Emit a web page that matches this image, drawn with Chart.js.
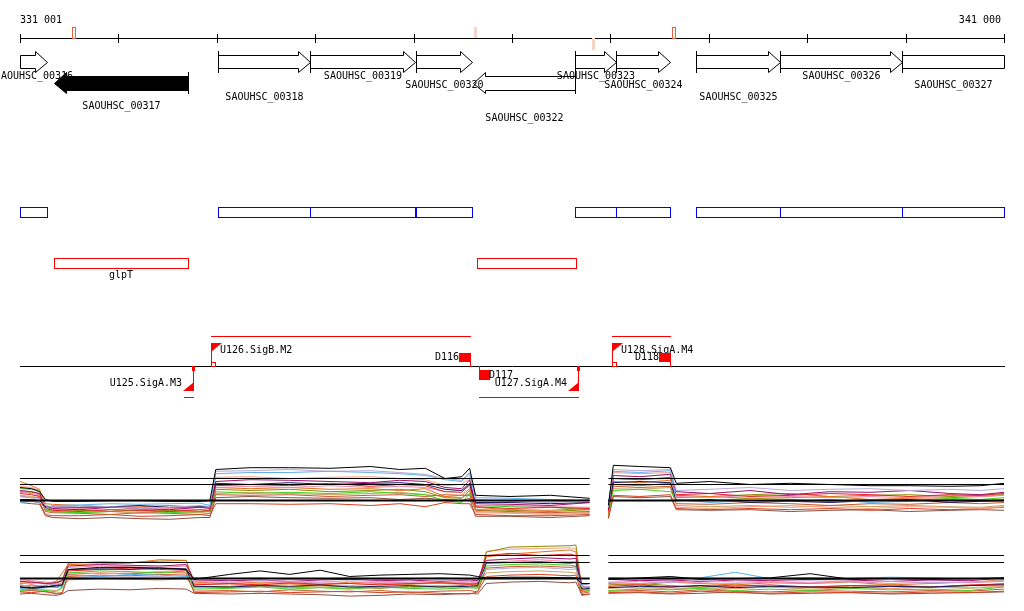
<!DOCTYPE html>
<html>
<head>
<meta charset="utf-8">
<title>SAOUHSC 331 001 - 341 000</title>
<script src="https://cdn.jsdelivr.net/npm/chart.js@4.4.1/dist/chart.umd.min.js"></script>
<style>
  html, body { margin: 0; padding: 0; background: #fff; }
  #wrap { width: 1024px; height: 611px; }
</style>
</head>
<body>
<div id="wrap"><canvas id="myChart" width="1024" height="611"></canvas></div>
<script>
// window shown (bp)
const viewStart = 331001;
const viewEnd = 341000;
const rulerTicks = [331001, 332000, 333000, 334000, 335000, 336000, 337000, 338000, 339000, 340000, 341000];
const rulerLabels = ['331 001', '341 000'];

// small marks on the ruler
const snpPos = [331545, 335620, 336824, 337647];
const snpStrand = ['+', '+', '-', '+'];
const snpStrong = [true, false, false, true];

// annotated genes
const geneNames = ['SAOUHSC_00316', 'SAOUHSC_00317', 'SAOUHSC_00318', 'SAOUHSC_00319', 'SAOUHSC_00320',
  'SAOUHSC_00322', 'SAOUHSC_00323', 'SAOUHSC_00324', 'SAOUHSC_00325', 'SAOUHSC_00326', 'SAOUHSC_00327'];
const geneStart = [330900, 331347, 333013, 333948, 335025, 335604, 336641, 337058, 337871, 338724, 339964];
const geneEnd = [331275, 332708, 333948, 335015, 335594, 336641, 337058, 337606, 338724, 339964, 341400];
const geneStrand = ['+', '-', '+', '+', '+', '-', '+', '+', '+', '+', '+'];
const selectedGene = 'SAOUHSC_00317';

// blue track (forward CDS) and red track (operons)
const cdsStart = [330900, 333013, 333948, 335025, 336641, 337058, 337871, 338724, 339964];
const cdsEnd = [331275, 333948, 335015, 335594, 337058, 337606, 338724, 339964, 341400];
const operonStart = [331347, 335645];
const operonEnd = [332708, 336651];
const operonNames = ['glpT', ''];

// promoters, terminators and transcripts
const promoterNames = ['U125.SigA.M3', 'U126.SigB.M2', 'U127.SigA.M4', 'U128.SigA.M4'];
const promoterPos = [332759, 332942, 336671, 337017];
const promoterStrand = ['-', '+', '-', '+'];
const termNames = ['D116', 'D117', 'D118'];
const termPos = [335574, 335665, 337606];
const termStrand = ['+', '-', '+'];
const transcriptStart = [332942, 337017, 335665, 332668];
const transcriptEnd = [335574, 337606, 336671, 332759];
const transcriptStrand = ['+', '+', '-', '-'];

// expression, upper panel (probe positions, log2 signal)
const topPos = [331001, 331120, 331200, 331260, 331330, 331610, 331920, 332220, 332520, 332830, 332930,
  332990, 333340, 333740, 334150, 334560, 334860, 335120, 335320, 335490, 335570, 335630, 335980, 336390,
  336790, 336880, 336980, 337030, 337300, 337610, 337670, 338010, 338420, 338830, 339230, 339640, 340040,
  340450, 340760, 341000];
const topBlack = [7.5,7.3,6.8,5.5, 5.2,5.2,5.3,5.3,5.2,5.2,5.3, 10.5, 10.8,10.8,10.7,11.0,10.5,10.7, 9.0,9.3, 10.7, 6.2, 6.0,6.2,5.7, null, 4.5, 11.2,11.0,10.8, 8.2,8.5,8.0,8.2,8.0,7.8,7.8,7.7,7.8,8.2];
const topLightBlue = [5.0,5.2,5.0,4.0, 4.5,4.6,4.8,4.7,4.8,4.9,4.5, 9.8, 10.0,10.0,10.2,10.0,9.8,9.5, 8.8,8.5, 9.8, 5.8, 5.7,5.5,5.3, null, 4.8, 10.2,10.0,10.3, 5.5,5.0,5.3,5.2,5.5,5.0,5.2,5.5,5.3,5.5];
const topLavender = [6.0,5.8,5.7,4.5, 4.3,4.5,4.3,4.0,4.2,4.5,4.3, 10.2, 10.3,10.5,10.2,10.3,10.0,9.7, 9.0,8.7, 10.0, 5.5, 5.2,5.0,5.5, null, 4.2, 10.5,10.3,10.5, 7.0,7.2,7.5,7.0,7.2,7.3,7.0,7.2,7.0,7.3];
const topPurple = [7.0,6.8,6.5,4.3, 4.0,3.8,4.2,4.0,3.8,4.2,4.0, 8.5, 8.8,8.7,8.5,8.3,8.7,8.5, 7.5,7.3, 8.8, 4.8, 4.7,4.5,5.0, null, 3.8, 9.5,9.3,9.7, 6.8,6.5,7.0,6.3,6.8,6.7,7.0,6.5,6.3,6.7];
const topRed = [6.5,6.3,6.0,4.0, 3.7,3.5,3.8,3.7,3.5,3.8,3.7, 7.8, 8.0,7.8,8.2,7.7,8.0,7.8, 6.8,6.7, 8.0, 4.3, 4.0,4.2,4.0, null, 3.5, 9.0,8.8,9.2, 6.3,6.5,6.0,6.2,6.5,6.3,6.0,6.3,6.2,6.5];
const topOrange = [8.5,7.8,7.2,4.8, 4.7,4.5,4.2,4.3,4.5,4.2,4.3, 7.5, 7.3,7.5,7.2,7.3,7.0,7.3, 6.0,6.2, 7.3, 4.2, 3.8,3.7,4.0, null, 3.2, 8.5,8.3,8.7, 5.8,6.0,5.7,5.8,6.0,5.5,5.7,5.8,6.0,6.2];
const topOlive = [6.8,6.7,6.5,4.2, 3.8,3.7,3.5,3.8,3.7,3.5,3.7, 7.2, 7.0,7.2,6.8,7.0,7.2,6.8, 5.8,5.7, 7.0, 3.8, 3.7,3.5,3.8, null, 3.3, 8.0,7.8,8.2, 6.2,6.0,6.3,6.5,6.0,6.2,6.3,6.0,6.2,6.3];
const topLime = [7.3,7.2,7.0,3.8, 3.5,3.3,3.5,3.7,3.3,3.5,3.5, 6.8, 6.5,6.7,6.5,6.8,6.5,6.3, 5.3,5.0, 6.5, 4.5, 4.3,4.2,3.8, null, 3.0, 7.0,7.2,6.8, 5.5,5.3,5.7,5.5,5.2,5.5,5.3,5.7,5.5,5.8];
const topRust = [6.0,5.8,5.8,3.5, 3.3,3.2,3.0,3.3,3.2,3.0,3.2, 6.3, 6.2,6.3,6.0,6.2,6.3,6.0, 6.3,6.2, 6.2, 3.7, 3.5,3.3,3.5, null, 2.8, 7.7,7.5,7.7, 4.8,4.7,5.0,4.8,4.5,4.8,4.7,5.0,4.8,5.0];
const topPink = [6.7,6.5,6.3,4.5, 4.2,4.0,4.3,4.2,4.0,4.2,4.2, 7.5, 7.7,7.5,7.8,7.5,7.7,7.5, 6.8,7.0, 7.7, 4.5, 4.5,4.3,4.2, null, 3.7, 9.0,8.8,9.0, 6.0,5.8,6.2,6.0,5.8,6.0,5.8,6.2,6.0,6.2];
const topNavy = [5.5,5.5,5.3,4.2, 4.3,4.2,4.3,4.5,4.2,4.3,4.3, 8.2, 8.0,8.3,8.0,8.2,8.3,8.0, 7.2,7.0, 8.2, 5.0, 5.0,4.8,5.0, null, 4.0, 8.3,8.5,8.3, 5.3,5.5,5.0,5.2,5.0,5.3,5.5,5.0,5.2,5.3];
const topTan = [6.2,6.0,6.2,3.7, 3.5,3.3,3.5,3.2,3.5,3.3,3.5, 6.5, 6.7,6.5,6.3,6.5,6.7,6.3, 6.0,5.8, 6.5, 3.5, 3.3,3.2,3.3, null, 3.0, 7.3,7.2,7.5, 4.5,4.3,4.5,4.2,4.5,4.3,4.5,4.3,4.2,4.5];
const topScarlet = [5.3,5.2,5.0,3.0, 2.8,2.8,3.0,2.7,2.8,3.0,2.8, 4.8, 4.8,4.7,4.8,4.5,4.8,4.3, 5.0,4.8, 4.8, 3.0, 2.8,2.8,3.0, null, 2.5, 6.2,6.0,6.3, 4.0,3.8,4.0,3.8,4.0,3.7,4.0,3.8,4.0,4.2];
const topBrown = [5.0,4.8,4.7,2.8, 2.5,2.3,2.5,2.3,2.2,2.5,2.5, 5.8, 6.0,5.8,5.7,5.8,5.5,5.7, 5.5,5.3, 5.7, 2.7, 2.7,2.5,2.8, null, 2.3, 6.0,5.8,6.0, 3.8,3.7,3.8,3.5,3.7,3.8,3.5,3.7,3.8,3.7];
const topSalmon = [7.7,7.5,7.0,3.8, 3.5,3.7,3.8,3.5,3.7,3.8,3.6, 9.2, 9.3,9.0,9.2,9.3,9.0,8.8, 7.8,8.0, 9.2, 3.3, 3.2,3.0,3.2, null, 3.5, 10.0,9.8,10.0, 4.2,4.0,4.3,4.5,4.2,4.0,4.3,4.2,4.0,4.3];

// expression, lower panel
const botPos = [331001, 331120, 331260, 331370, 331430, 331490, 331810, 332120, 332420, 332690, 332770,
  333130, 333440, 333740, 334050, 334350, 334660, 334960, 335270, 335570, 335650, 335740, 335980, 336280,
  336590, 336650, 336710, 336790, 336880, 336980, 337300, 337610, 337910, 338270, 338620, 339030, 339440,
  339840, 340250, 340650, 341000];
const botBlack = [4.5,4.3,4.5, 4.7,4.8, 7.0,7.3,7.3,7.2,7.0, 5.6,6.3,6.8,6.3,6.9,6.0,6.2,6.3,6.4,6.2,6.0, 5.8,5.9,5.9,5.8,5.8, 5.0,5.0, null, 5.6,5.8,6.0,5.6,5.7,5.8,6.4,5.6,5.7,5.6,5.7,5.8];
const botOlive = [4.8,4.5,4.7, 5.2,5.5, 7.9,8.1,8.0,8.2,8.3, 4.5,4.6,4.8,4.5,4.7,4.5,4.3,4.6,4.5,4.8,4.5, 9.5,10.2,10.3,10.4,10.5, 4.3,4.5, null, 4.8,5.0,4.7,4.5,4.8,4.6,4.5,4.7,4.8,4.5,4.7,5.0];
const botOrange = [5.0,5.2,5.0, 5.3,6.5, 7.7,7.8,7.9,8.4,8.3, 5.2,5.0,5.2,5.0,4.8,5.2,5.0,4.9,5.2,5.0,4.8, 8.8,9.2,9.5,9.8,9.5, 4.0,4.2, null, 5.0,4.8,5.2,5.0,4.8,5.1,5.0,5.2,4.8,5.0,5.2,5.5];
const botPurple = [5.3,5.2,5.0, 5.1,5.4, 7.5,7.7,7.6,7.5,7.7, 5.5,5.4,5.5,5.3,5.5,5.6,5.4,5.5,5.3,5.5,5.4, 8.3,8.5,8.7,8.5,8.6, 4.8,5.0, null, 5.6,5.4,5.5,5.3,5.5,5.4,5.6,5.5,5.3,5.5,5.4,5.8];
const botRed = [4.6,4.8,4.5, 4.8,5.0, 6.8,7.0,7.2,7.0,6.9, 4.8,5.0,4.8,5.1,4.9,5.0,4.8,5.0,5.1,4.9,5.0, 9.0,9.3,9.0,9.2,9.0, 4.6,4.5, null, 4.6,4.8,4.5,4.7,4.6,4.8,4.5,4.7,4.6,4.5,4.8,4.9];
const botLime = [4.0,4.2,4.0, 3.8,4.5, 6.5,6.8,6.7,6.5,6.8, 4.2,4.3,4.5,4.2,4.4,4.2,4.5,4.3,4.2,4.4,4.3, 7.5,7.7,7.8,7.6,7.5, 3.8,4.0, null, 4.0,4.2,4.1,4.3,4.0,4.2,4.0,4.3,4.1,4.2,4.0,4.5];
const botLightBlue = [4.3,4.2,4.4, 4.5,4.6, 6.2,6.0,6.3,6.2,6.0, 5.8,5.7,5.8,5.6,5.7,5.8,5.6,5.7,5.8,5.6,5.7, 5.9,5.8,5.8,5.9,5.8, 4.8,5.0, null, 5.8,5.7,5.9,5.8,6.6,5.7,5.8,5.7,5.9,5.8,5.6,5.8];
const botLavender = [4.8,4.6,4.8, 4.9,5.0, 5.8,6.0,5.9,6.0,5.8, 5.3,5.2,5.4,5.3,5.2,5.4,5.3,5.2,5.4,5.3,5.2, 7.0,7.2,7.3,7.0,7.1, 4.5,4.6, null, 5.2,5.3,5.1,5.5,5.2,5.3,5.4,5.2,5.3,5.1,5.2,5.4];
const botPink = [5.5,5.4,5.2, 5.0,5.3, 7.3,7.5,7.4,7.3,7.5, 5.0,5.1,5.0,5.2,5.1,5.0,5.2,5.1,5.0,5.2,5.1, 8.0,8.2,8.4,8.1,8.2, 4.4,4.5, null, 5.2,5.0,5.3,5.1,5.0,5.2,5.1,5.3,5.0,5.2,5.1,5.3];
const botNavy = [4.5,4.4,4.6, 4.5,4.7, 7.0,7.1,7.0,7.2,7.1, 4.6,4.5,4.7,4.6,4.8,4.5,4.6,4.7,4.5,4.6,4.7, 7.9,8.0,8.1,7.9,8.0, 4.2,4.3, null, 4.4,4.6,4.5,4.7,4.4,4.6,4.5,4.4,4.6,4.5,4.7,4.8];
const botRust = [3.9,4.0,3.8, 3.6,3.7, 6.0,6.2,6.1,6.3,6.2, 3.9,4.0,3.8,4.1,3.9,3.8,4.0,3.7,3.9,4.0,3.8, 7.2,7.4,7.5,7.3,7.4, 3.6,3.8, null, 3.9,4.0,3.8,4.1,3.9,3.8,4.0,3.9,3.8,4.0,3.9,4.2];
const botTan = [4.2,4.0,4.1, 4.0,4.3, 5.5,5.7,5.6,5.5,5.7, 4.5,4.4,4.6,4.4,4.5,4.3,4.5,4.4,4.6,4.4,4.5, 6.5,6.7,6.8,6.6,6.5, 4.0,4.1, null, 4.3,4.5,4.2,4.4,4.3,4.5,4.2,4.4,4.3,4.5,4.3,4.6];
const botScarlet = [3.8,3.7,3.9, 3.5,3.6, 6.3,6.5,6.4,6.6,6.5, 3.7,3.8,3.9,3.7,3.8,3.9,3.7,3.8,3.6,3.5,3.8, 6.0,6.2,6.3,6.1,6.2, 3.3,3.5, null, 3.7,3.8,3.6,3.9,3.7,3.6,3.8,3.7,3.6,3.8,3.7,3.9];
const botBrown = [3.5,3.6,3.4, 3.3,3.5, 4.0,4.2,4.1,4.3,4.2, 3.6,3.5,3.6,3.5,3.4,3.2,3.3,3.5,3.4,3.6,3.5, 5.0,5.2,5.3,5.1,5.2, 3.4,3.5, null, 3.6,3.7,3.5,3.6,3.8,3.5,3.6,3.7,3.5,3.6,3.7,3.8];
const botSalmon = [5.1,5.0,5.2, 4.4,4.6, 6.6,6.4,6.5,6.7,6.6, 4.8,4.9,4.7,4.9,4.8,4.7,4.9,4.8,4.7,4.9,4.8, 9.6,9.9,10.0,10.1,9.9, 3.8,3.9, null, 4.5,4.3,4.6,4.4,4.3,4.5,4.4,4.6,4.3,4.5,4.4,4.6];

// reference levels in each panel
const refPos = [331001, 336790, 336880, 336980, 341000];
const topRefLevels = [9, 8, 5.33];
const botRefLevels = [9, 8, 5.71];

const topSeries = [topBlack, topLightBlue, topLavender, topPurple, topNavy, topRed, topPink, topOrange,
  topOlive, topLime, topSalmon, topRust, topTan, topScarlet, topBrown];
const topColors = ['#000000', '#62b0e8', '#b8a8d8', '#a0106e', '#1c1c5c', '#e02424', '#f088a8', '#e87020',
  '#8c8c00', '#40d020', '#f4a080', '#c85a30', '#c8a060', '#d84020', '#8c5040'];
const botSeries = [botBlack, botLightBlue, botLavender, botPurple, botNavy, botRed, botPink, botOrange,
  botOlive, botLime, botSalmon, botRust, botTan, botScarlet, botBrown];
const botColors = topColors;

const datasets = [];
function addRefs(levels, axis) {
  levels.forEach((lv, k) => {
    datasets.push({
      data: refPos.map((p, i) => ({ x: p, y: i === 2 ? null : lv })),
      yAxisID: axis, borderColor: '#000', borderWidth: k === 2 ? 2 : 1
    });
  });
}
addRefs(topRefLevels, 'yTop');
addRefs(botRefLevels, 'yBot');
topSeries.forEach((s, k) => datasets.push({
  data: topPos.map((p, i) => ({ x: p, y: s[i] })), yAxisID: 'yTop', borderColor: topColors[k]
}));
botSeries.forEach((s, k) => datasets.push({
  data: botPos.map((p, i) => ({ x: p, y: s[i] })), yAxisID: 'yBot', borderColor: botColors[k]
}));

// draws the annotation tracks with the chart's own scales
const trackPlugin = {
  id: 'genomeTracks',
  beforeDraw(chart) {
    const ctx = chart.ctx;
    ctx.save();
    ctx.fillStyle = '#fff';
    ctx.fillRect(0, 0, chart.width, chart.height);
    ctx.restore();
  },
  afterDatasetsDraw(chart) {
    const ctx = chart.ctx;
    const xs = chart.scales.x, ys = chart.scales.yTrack;
    const X = v => Math.round(xs.getPixelForValue(Math.min(Math.max(v, viewStart), viewEnd)));
    const Y = v => Math.round(ys.getPixelForValue(v));
    const hline = (x1, x2, r) => { ctx.beginPath(); ctx.moveTo(x1, Y(r) + 0.5); ctx.lineTo(x2 + 1, Y(r) + 0.5); ctx.stroke(); };
    const vline = (x, r1, r2) => { ctx.beginPath(); ctx.moveTo(x + 0.5, Y(r1)); ctx.lineTo(x + 0.5, Y(r2) + 1); ctx.stroke(); };

    ctx.save();
    ctx.lineWidth = 1;
    ctx.font = '10px "DejaVu Sans Mono"';
    ctx.textBaseline = 'middle';

    // ruler
    ctx.strokeStyle = '#000';
    ctx.fillStyle = '#000';
    hline(X(viewStart), X(viewEnd), 38);
    rulerTicks.forEach(t => vline(X(t), 34, 42));
    ctx.textAlign = 'left';
    ctx.fillText(rulerLabels[0], X(viewStart), Y(20));
    ctx.textAlign = 'right';
    ctx.fillText(rulerLabels[1], X(viewEnd) - 3, Y(20));

    snpPos.forEach((p, i) => {
      const x = X(p);
      const r1 = snpStrand[i] === '+' ? 27 : 38, r2 = snpStrand[i] === '+' ? 38 : 50;
      if (snpStrong[i]) {
        ctx.strokeStyle = '#f0603c';
        ctx.strokeRect(x - 1.5, Y(r1) + 0.5, 3, Y(r2) - Y(r1));
      } else {
        ctx.fillStyle = '#f8d4c8';
        ctx.fillRect(x - 1, Y(r1), 3, Y(r2) - Y(r1));
      }
    });

    // genes: arrows first, names on top
    const geneRows = { '+': [51, 55, 61.5, 68, 72], '-': [72, 75.5, 82.5, 89.5, 93] };
    const labelRows = [76, 106, 97, 76, 85, 118, 76, 85, 97, 76, 85];
    const head = 12;
    const centres = [];
    geneNames.forEach((name, i) => {
      const fwd = geneStrand[i] === '+';
      const [top, sTop, mid, sBot, bot] = geneRows[geneStrand[i]].map(r => Y(r) + 0.5);
      const x1 = X(geneStart[i]) + 0.5, x2 = X(geneEnd[i]) + 0.5;
      const cutL = geneStart[i] < viewStart, cutR = geneEnd[i] > viewEnd;
      centres.push((x1 + x2) / 2);
      ctx.beginPath();
      if (fwd && cutR) {
        ctx.rect(x1, sTop, x2 - x1, sBot - sTop);
      } else if (fwd) {
        ctx.moveTo(x1, sTop); ctx.lineTo(x2 - head, sTop); ctx.lineTo(x2 - head, top);
        ctx.lineTo(x2, mid); ctx.lineTo(x2 - head, bot); ctx.lineTo(x2 - head, sBot);
        ctx.lineTo(x1, sBot); ctx.closePath();
      } else {
        ctx.moveTo(x2, sTop); ctx.lineTo(x1 + head, sTop); ctx.lineTo(x1 + head, top);
        ctx.lineTo(x1, mid); ctx.lineTo(x1 + head, bot); ctx.lineTo(x1 + head, sBot);
        ctx.lineTo(x2, sBot); ctx.closePath();
      }
      ctx.fillStyle = name === selectedGene ? '#000' : '#fff';
      ctx.fill();
      ctx.strokeStyle = '#000';
      ctx.stroke();
      if (!(fwd ? cutL : cutR)) {
        ctx.beginPath();
        const tx = fwd ? x1 : x2;
        ctx.moveTo(tx, top - 0.5); ctx.lineTo(tx, bot + 0.5); ctx.stroke();
      }
    });
    ctx.fillStyle = '#000';
    ctx.textAlign = 'center';
    geneNames.forEach((name, i) => ctx.fillText(name, centres[i], Y(labelRows[i])));

    // blue track
    ctx.strokeStyle = '#0000ff';
    cdsStart.forEach((s, i) => {
      const x1 = X(s), x2 = X(cdsEnd[i]);
      ctx.strokeRect(x1 + 0.5, Y(207) + 0.5, x2 - x1, 10);
    });

    // red track
    ctx.strokeStyle = '#ff0000';
    operonStart.forEach((s, i) => {
      const x1 = X(s), x2 = X(operonEnd[i]);
      ctx.strokeRect(x1 + 0.5, Y(258) + 0.5, x2 - x1, 10);
      if (operonNames[i]) {
        ctx.fillStyle = '#000';
        ctx.textAlign = 'center';
        ctx.fillText(operonNames[i], (x1 + x2) / 2, Y(275));
      }
    });

    // promoter / terminator track
    ctx.strokeStyle = '#000';
    hline(X(viewStart), X(viewEnd), 366);
    ctx.strokeStyle = '#ff0000';
    ctx.fillStyle = '#ff0000';
    transcriptStart.forEach((s, i) => {
      hline(X(s), X(transcriptEnd[i]), transcriptStrand[i] === '+' ? 336 : 397);
    });
    promoterPos.forEach((p, i) => {
      const x = X(p);
      ctx.strokeStyle = '#ff0000';
      ctx.fillStyle = '#ff0000';
      if (promoterStrand[i] === '+') {
        vline(x, 343, 366);
        ctx.beginPath();
        ctx.moveTo(x, Y(343)); ctx.lineTo(x + 11, Y(343)); ctx.lineTo(x, Y(352)); ctx.closePath(); ctx.fill();
        ctx.strokeRect(x + 0.5, Y(362) + 0.5, 4, 4);
        ctx.fillStyle = '#000';
        ctx.textAlign = 'left';
        ctx.fillText(promoterNames[i], x + 9, Y(350));
      } else {
        vline(x, 366, 390);
        ctx.beginPath();
        ctx.moveTo(x + 1, Y(391)); ctx.lineTo(x - 10, Y(391)); ctx.lineTo(x + 1, Y(382)); ctx.closePath(); ctx.fill();
        ctx.strokeRect(x - 0.5, Y(366) + 0.5, 2, 4);
        ctx.fillStyle = '#000';
        ctx.textAlign = 'right';
        ctx.fillText(promoterNames[i], x - 11, Y(383));
      }
    });
    termPos.forEach((p, i) => {
      const x = X(p);
      ctx.strokeStyle = '#ff0000';
      ctx.fillStyle = '#ff0000';
      if (termStrand[i] === '+') {
        ctx.fillRect(x - 11, Y(353), 12, 9);
        vline(x, 362, 366);
        ctx.fillStyle = '#000';
        ctx.textAlign = 'right';
        ctx.fillText(termNames[i], x - 11, Y(357));
      } else {
        vline(x, 366, 370);
        ctx.fillRect(x, Y(370), 11, 10);
        ctx.fillStyle = '#000';
        ctx.textAlign = 'left';
        ctx.fillText(termNames[i], x + 10, Y(375));
      }
    });
    ctx.restore();
  }
};

const chart = new Chart(document.getElementById('myChart').getContext('2d'), {
  type: 'line',
  data: { datasets: datasets },
  options: {
    responsive: false,
    animation: false,
    devicePixelRatio: 1,
    layout: { padding: { left: 20, right: 20, top: 0, bottom: 0 } },
    plugins: { legend: { display: false }, tooltip: { enabled: false } },
    elements: {
      point: { radius: 0, hitRadius: 0 },
      line: { borderWidth: 1, tension: 0, fill: false }
    },
    scales: {
      x: { type: 'linear', min: viewStart, max: viewEnd, display: false },
      yTrack: { type: 'linear', min: 0, max: 611, reverse: true, display: false },
      // upper expression panel: 6 px per log2 unit, level 9 on row 478
      yTop: { type: 'linear', min: (532.5 - 611) / 6, max: 532.5 / 6, display: false },
      // lower expression panel: 7 px per log2 unit, level 9 on row 555
      yBot: { type: 'linear', min: (618.5 - 611) / 7, max: 618.5 / 7, display: false }
    }
  },
  plugins: [trackPlugin]
});
</script>
</body>
</html>
